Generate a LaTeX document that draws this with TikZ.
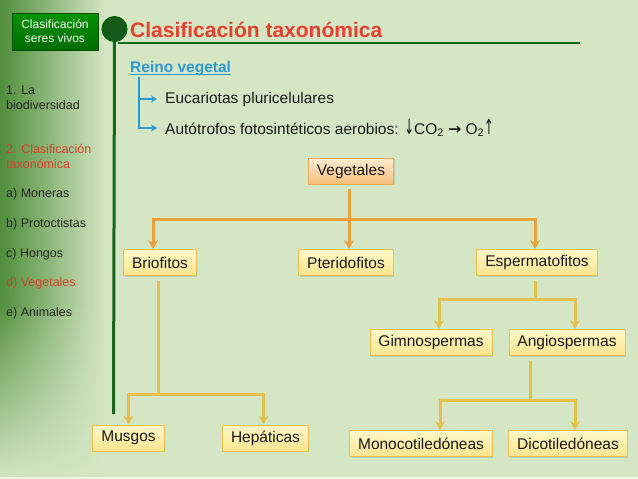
\documentclass[tikz,border=0pt]{standalone}
\usepackage{fontspec}
\setmainfont{Liberation Sans}
\newfontfamily\flechafont{DejaVu Sans}
\usepackage{graphicx}
\usetikzlibrary{arrows.meta, shadows, fadings, positioning}

\definecolor{fondo}{HTML}{D4E6C3}
\definecolor{barra}{HTML}{4F8E3A}
\definecolor{verdeosc}{HTML}{17691D}
\definecolor{rojo}{HTML}{E8402E}
\definecolor{rojomenu}{HTML}{D4412B}
\definecolor{azul}{HTML}{2E9AD4}
\definecolor{naranja}{HTML}{EBA23C}
\definecolor{dorado}{HTML}{E6C04C}
\definecolor{cajaborde}{HTML}{E8C150}
\definecolor{cajaarriba}{HTML}{FFF9C8}
\definecolor{cajaabajo}{HTML}{FBE48E}
\definecolor{vegborde}{HTML}{F0A955}
\definecolor{vegarriba}{HTML}{FFEBD0}
\definecolor{vegabajo}{HTML}{F8BF7C}

\tikzset{
  taxon/.style={draw=cajaborde, line width=0.9pt, top color=cajaarriba, bottom color=cajaabajo,
    minimum height=26pt, inner xsep=8.5pt, text=black!90, font=\fontsize{15.5}{18}\selectfont,
    drop shadow={shadow xshift=1pt, shadow yshift=-1.2pt, opacity=0.25}},
  raiz/.style={taxon, draw=vegborde, top color=vegarriba, bottom color=vegabajo},
  menubox/.style={draw=green!30!black, top color=green!58!black, bottom color=green!42!black,
    text=white, align=center, minimum width=86pt, minimum height=37pt, inner sep=0pt,
    font=\fontsize{12}{14}\selectfont, drop shadow={shadow xshift=1pt, shadow yshift=-1pt, opacity=0.3}},
  menu/.style={anchor=west, align=left, inner sep=0pt, text=black!85, font=\fontsize{12.5}{15}\selectfont},
  lista/.style={anchor=west, inner sep=0pt, text=black!90, font=\fontsize{15.5}{18}\selectfont},
  rama/.style={line width=3pt},
  flecha/.style={-{Stealth[length=9pt,width=10pt]}},
  flechas/.style={{Stealth[length=9pt,width=10pt]}-{Stealth[length=9pt,width=10pt]}}
}

\begin{document}
\begin{tikzpicture}[x=1pt, y=-1pt]
	\useasboundingbox (0,0) rectangle (638,479);
	% fondo y barra lateral
	\fill[fondo] (0,0) rectangle (638,479);
	\shade[left color=barra, middle color=barra!40!fondo, right color=fondo] (0,0) rectangle (105,479);
	\fill[fondo, path fading=north] (0,300) rectangle (105,479);
	\fill[fondo!45!white] (0,476.5) rectangle (638,479);

	% encabezado
	\node[menubox] (seres) at (55,31.5) {Clasificación\\seres vivos};
	\coordinate (lin0) at (118,43);
	\coordinate (lin1) at (580,43);
	\coordinate (finlinea) at (113.5,414);
	\draw[verdeosc, line width=2.2pt] (lin0) -- (lin1);
	\node[circle, fill=verdeosc!85!black, draw=green!40!black, line width=1pt, minimum size=25pt, inner sep=0pt] (punto) at (114.5,29) {};
	\draw[verdeosc, line width=3pt] (punto.south) -- (finlinea);
	\node[anchor=base west, inner sep=0pt, text=rojo, font=\bfseries\fontsize{21}{24}\selectfont] (titulo) at (130,37) {Clasificación taxonómica};

	% menu lateral
	\node[menu] (m1) at (6,97.5) {1. La\\biodiversidad};
	\node[menu, text=rojomenu] (m2) at (6,156.5) {2. Clasificación\\taxonómica};
	\node[menu] (ma) at (6,194) {a) Moneras};
	\node[menu] (mb) at (6,224) {b) Protoctistas};
	\node[menu] (mc) at (6,254) {c) Hongos};
	\node[menu, text=rojomenu] (md) at (6,283) {d) Vegetales};
	\node[menu] (me) at (6,313) {e) Animales};

	% reino vegetal
	\node[anchor=base west, inner sep=0pt, text=azul, font=\bfseries\fontsize{15.5}{18}\selectfont] (reino) at (130,72) {Reino vegetal};
	\draw[azul, line width=1.2pt] ([yshift=-2.5pt]reino.base west) -- ([yshift=-2.5pt]reino.base east);
	\node[lista] (euca) at (165,99) {Eucariotas pluricelulares};
	\node[lista] (auto) at (165,128) {Autótrofos fotosintéticos aerobios: {\flechafont\scalebox{0.75}[1.35]{↓}}CO\textsubscript{2} {\flechafont\bfseries →} O\textsubscript{2}{\flechafont\scalebox{0.75}[1.35]{↑}}};
	\draw[azul, line width=1.8pt, -{Stealth[length=6pt,width=7pt]}] ([xshift=9pt,yshift=-5pt]reino.base west) |- ([xshift=-8pt]auto.west);
	\draw[azul, line width=1.8pt, -{Stealth[length=6pt,width=7pt]}] ([xshift=9pt]reino.base west |- euca.west) -- ([xshift=-8pt]euca.west);

	% arbol
	\node[raiz] (veg) at (351,171) {Vegetales};
	\node[taxon] (brio) at (160,262.5) {Briofitos};
	\node[taxon] (pter) at (346,262.5) {Pteridofitos};
	\node[taxon] (esper) at (537,262.5) {Espermatofitos};
	\node[taxon] (gimno) at (431,342.5) {Gimnospermas};
	\node[taxon] (angio) at (567,342.5) {Angiospermas};
	\node[taxon] (musgo) at (128.5,438) {Musgos};
	\node[taxon] (hepat) at (265.5,438) {Hepáticas};
	\node[taxon] (mono) at (421,443.5) {Monocotiledóneas};
	\node[taxon] (dico) at (568,443.5) {Dicotiledóneas};

	% ramas
	\draw[rama, naranja, flecha] ([xshift=-2pt,yshift=-5pt]veg.south) -- ([xshift=-2pt]veg.south |- pter.north);
	\draw[rama, naranja, flechas] ([xshift=-7pt]brio.north) -- ++(0,-30) -| ([xshift=-2pt]esper.north);

	\coordinate (bbar) at ([yshift=30pt]musgo.north);
	\draw[rama, dorado] ([xshift=-2pt,yshift=-5pt]brio.south) -- ([xshift=-2pt]brio.south |- bbar);
	\draw[rama, dorado, flechas] (musgo.north) -- (bbar) -| ([xshift=-2pt]hepat.north);

	\coordinate (ebar) at ([xshift=8pt,yshift=30pt]gimno.north);
	\draw[rama, dorado] ([xshift=-2pt,yshift=-5pt]esper.south) -- ([xshift=-2pt]esper.south |- ebar);
	\draw[rama, dorado, flechas] ([xshift=8pt]gimno.north) -- (ebar) -| ([xshift=8pt]angio.north);

	\coordinate (abar) at ([xshift=19pt,yshift=30pt]mono.north);
	\draw[rama, dorado] ([xshift=-37pt,yshift=-5pt]angio.south) -- ([xshift=-37pt]angio.south |- abar);
	\draw[rama, dorado, flechas] ([xshift=19pt]mono.north) -- (abar) -| ([xshift=7pt]dico.north);
\end{tikzpicture}
\end{document}
